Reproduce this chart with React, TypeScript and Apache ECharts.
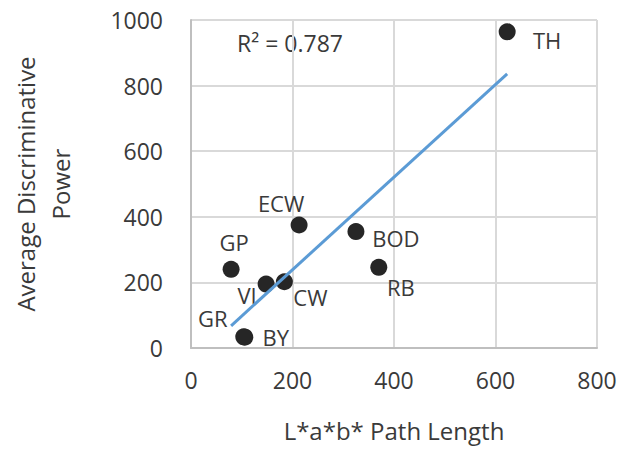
import React, { useEffect, useRef } from "react";
import * as echarts from "echarts";

// Colour schemes: path length in L*a*b* vs. average discriminative power
const schemes = ["TH", "ECW", "BOD", "GP", "RB", "VI", "CW", "BY", "GR"];
const pathLength = [623, 213, 325, 79, 370, 148, 184, 106, 104];
const discriminativePower = [964, 375, 355, 240, 246, 195, 202, 33, 34];
const xTicks = [0, 200, 400, 600, 800];
const yTicks = [0, 200, 400, 600, 800, 1000];
const rSquaredText = "R² = 0.787";

// Where each scheme's label sits relative to its dot (px)
const labelOffsets: Record<string, [number, number]> = {
  TH: [40, 8],
  ECW: [-18, -22],
  BOD: [40, 6],
  GP: [3, -27],
  RB: [22, 20],
  VI: [-19, 11],
  CW: [26, 15],
  BY: [31, 0],
  GR: [-31, -19],
};

// Ordinary least-squares fit over the points
function linearFit(xs: number[], ys: number[]) {
  const n = xs.length;
  const mx = xs.reduce((a, b) => a + b, 0) / n;
  const my = ys.reduce((a, b) => a + b, 0) / n;
  let sxy = 0;
  let sxx = 0;
  for (let i = 0; i < n; i++) {
    sxy += (xs[i] - mx) * (ys[i] - my);
    sxx += (xs[i] - mx) * (xs[i] - mx);
  }
  const slope = sxy / sxx;
  return { slope, intercept: my - slope * mx };
}

export default function App() {
  const ref = useRef<HTMLDivElement>(null);

  useEffect(() => {
    if (!ref.current) return;
    const chart = echarts.init(ref.current, undefined, { renderer: "svg" });

    const { slope, intercept } = linearFit(pathLength, discriminativePower);
    const xMin = Math.min(...pathLength);
    const xMax = Math.max(...pathLength);
    const trend = [
      [xMin, slope * xMin + intercept],
      [xMax, slope * xMax + intercept],
    ];

    const font = "'Open Sans', 'Noto Sans', sans-serif";
    const textColor = "#3a3a3a";

    const points = schemes.map((name, i) => ({
      name,
      value: [pathLength[i], discriminativePower[i]],
      label: { offset: labelOffsets[name] },
    }));

    chart.setOption({
      animation: false,
      backgroundColor: "#ffffff",
      grid: { left: 190, right: 38, top: 20, bottom: 104 },
      xAxis: {
        type: "value",
        min: xTicks[0],
        max: xTicks[xTicks.length - 1],
        interval: 200,
        name: "L*a*b* Path Length",
        nameLocation: "middle",
        nameGap: 70,
        nameTextStyle: { fontFamily: font, fontSize: 24, color: textColor },
        axisLine: { show: true, lineStyle: { color: "#bfbfbf", width: 2 } },
        axisTick: { show: false },
        axisLabel: {
          margin: 20,
          fontFamily: font,
          fontSize: 23,
          color: textColor,
          formatter: (v: number) => String(v),
        },
        splitLine: { show: true, lineStyle: { color: "#d9d9d9", width: 2 } },
      },
      yAxis: {
        type: "value",
        min: yTicks[0],
        max: yTicks[yTicks.length - 1],
        interval: 200,
        name: "Average Discriminative\nPower",
        nameLocation: "middle",
        nameGap: 113,
        nameTextStyle: {
          fontFamily: font,
          fontSize: 24,
          color: textColor,
          lineHeight: 35,
          align: "center",
        },
        axisLine: { show: true, lineStyle: { color: "#bfbfbf", width: 2 } },
        axisTick: { show: false },
        axisLabel: {
          margin: 28,
          fontFamily: font,
          fontSize: 23,
          color: textColor,
          formatter: (v: number) => String(v),
        },
        splitLine: { show: true, lineStyle: { color: "#d9d9d9", width: 2 } },
      },
      series: [
        {
          type: "scatter",
          data: points,
          symbolSize: 17,
          itemStyle: { color: "#262626", opacity: 1 },
          label: {
            show: true,
            position: "inside",
            formatter: "{b}",
            fontFamily: font,
            fontSize: 22,
            color: textColor,
          },
          z: 2,
        },
        {
          type: "line",
          data: trend,
          showSymbol: false,
          symbol: "none",
          lineStyle: { color: "#5b9bd5", width: 3 },
          z: 3,
        },
      ],
      graphic: [
        {
          type: "text",
          left: 237,
          top: 31,
          style: {
            text: rSquaredText,
            fontFamily: font,
            fontSize: 23,
            fill: textColor,
          },
        },
      ],
    });

    return () => chart.dispose();
  }, []);

  return (
    <div
      ref={ref}
      style={{ position: "absolute", left: 0, top: 0, width: 635, height: 452 }}
    />
  );
}
